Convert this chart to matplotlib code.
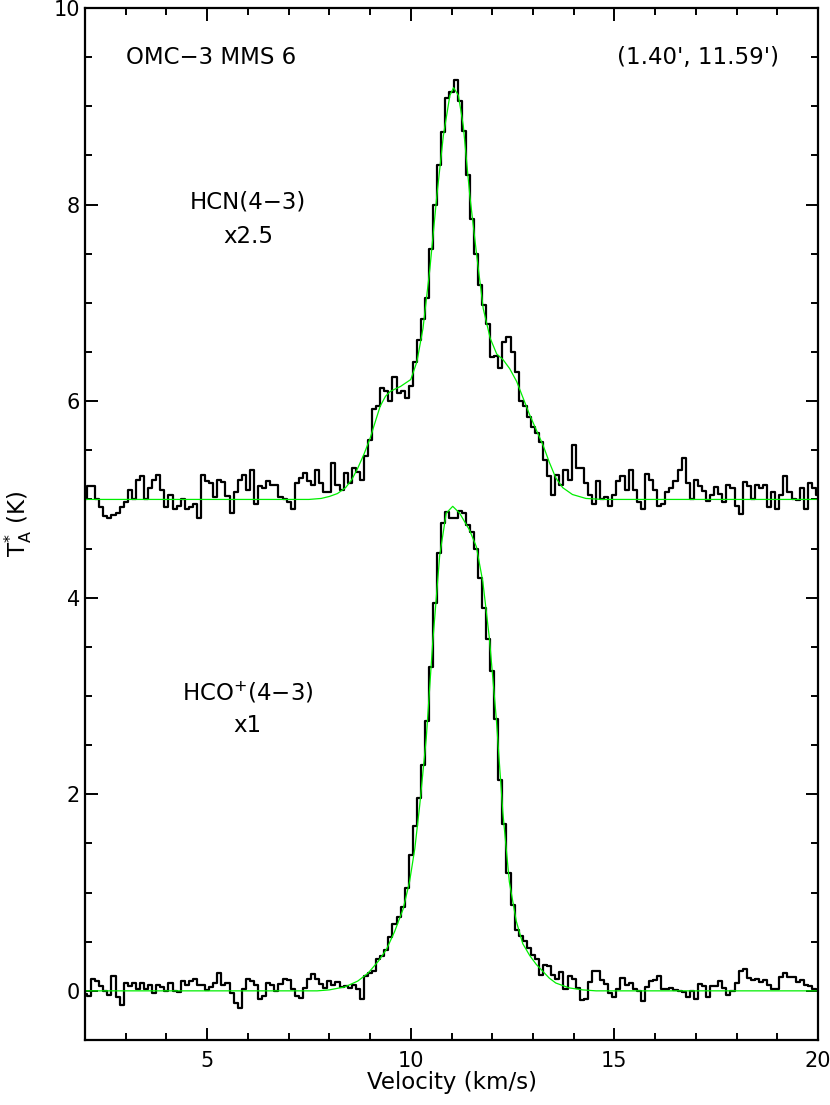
import numpy as np
import matplotlib
matplotlib.use("Agg")
import matplotlib.pyplot as plt
from matplotlib.ticker import MultipleLocator

plt.rcParams['font.family'] = ['DejaVu Sans']
plt.rcParams['mathtext.fontset'] = 'dejavusans'

# channel grid (km/s)
v_start, v_step = 2.0, 0.1

# HCN(4-3) x2.5, offset by +5 K (as plotted)
hcn = [5.0, 5.14, 5.14, 5.0, 4.92, 4.83, 4.81, 4.84, 4.86, 4.92,
       4.97, 5.1, 5.0, 5.2, 5.24, 5.0, 5.12, 5.2, 5.25, 5.1,
       4.92, 5.05, 4.9, 4.93, 5.0, 4.9, 4.92, 4.95, 4.81, 5.25,
       5.19, 5.17, 5.02, 5.2, 5.18, 5.03, 4.86, 5.08, 5.2, 5.25,
       5.1, 5.3, 4.95, 5.14, 5.12, 5.19, 5.15, 5.15, 5.02, 5.0,
       4.97, 4.9, 5.17, 5.22, 5.27, 5.19, 5.15, 5.3, 5.17, 5.08,
       5.08, 5.37, 5.15, 5.1, 5.27, 5.17, 5.32, 5.28, 5.2, 5.44,
       5.6, 5.92, 5.95, 6.13, 6.1, 6.0, 6.25, 6.08, 6.1, 6.03,
       6.15, 6.4, 6.62, 6.84, 7.05, 7.55, 8.0, 8.4, 8.74, 9.08,
       9.15, 9.27, 9.05, 8.75, 8.3, 7.85, 7.5, 7.18, 6.98, 6.78,
       6.45, 6.46, 6.34, 6.6, 6.65, 6.5, 6.3, 6.0, 5.95, 5.84,
       5.74, 5.68, 5.58, 5.4, 5.24, 5.05, 5.25, 5.15, 5.3, 5.2,
       5.55, 5.32, 5.32, 5.17, 5.05, 4.95, 5.19, 5.0, 5.02, 4.93,
       5.05, 5.19, 5.24, 5.1, 5.3, 5.1, 4.97, 4.9, 5.26, 5.2,
       5.1, 4.93, 4.95, 5.08, 5.12, 5.19, 5.3, 5.42, 5.17, 5.0,
       5.2, 5.14, 5.09, 4.98, 5.05, 5.13, 5.06, 4.97, 5.15, 5.12,
       4.93, 4.85, 5.18, 5.14, 5.0, 5.15, 5.12, 5.15, 4.92, 5.08,
       4.9, 5.05, 5.24, 5.08, 5.0, 4.99, 5.12, 4.9, 5.17, 5.12,
       5.05]

# HCO+(4-3) x1
hco = [-0.03, -0.05, 0.12, 0.1, 0.05, 0.0, -0.04, 0.15, -0.06, -0.14,
       0.08, 0.05, 0.08, 0.02, 0.08, 0.02, 0.06, -0.02, 0.06, 0.04,
       0.0, 0.08, 0.0, -0.01, 0.1, 0.06, 0.1, 0.12, 0.06, 0.06,
       0.01, 0.04, 0.08, 0.18, 0.06, 0.08, -0.02, -0.12, -0.17, 0.02,
       0.12, 0.1, 0.06, -0.08, -0.05, 0.08, 0.06, 0.0, 0.07, 0.12,
       0.11, 0.02, -0.05, -0.07, 0.03, 0.12, 0.17, 0.12, 0.07, 0.03,
       0.1, 0.06, 0.09, 0.04, 0.05, 0.03, 0.06, 0.02, -0.08, 0.15,
       0.18, 0.2, 0.32, 0.35, 0.42, 0.55, 0.68, 0.75, 0.85, 1.05,
       1.38, 1.68, 1.96, 2.3, 2.75, 3.3, 3.95, 4.45, 4.76, 4.87,
       4.81, 4.81, 4.88, 4.86, 4.74, 4.67, 4.5, 4.2, 3.9, 3.58,
       3.25, 2.77, 2.15, 1.7, 1.2, 0.87, 0.62, 0.56, 0.51, 0.44,
       0.36, 0.32, 0.16, 0.26, 0.25, 0.16, 0.12, 0.19, 0.02, 0.15,
       0.12, 0.03, -0.09, -0.08, 0.09, 0.2, 0.2, 0.11, 0.07, -0.02,
       -0.06, 0.02, 0.13, 0.06, 0.08, 0.02, 0.0, -0.1, 0.04, 0.1,
       0.11, 0.15, 0.02, 0.02, 0.03, 0.01, 0.0, -0.01, -0.06, 0.0,
       -0.08, 0.07, 0.05, -0.06, 0.05, 0.05, 0.1, 0.03, -0.04, 0.0,
       0.08, 0.2, 0.22, 0.13, 0.11, 0.12, 0.09, 0.11, 0.06, 0.02,
       0.02, 0.14, 0.18, 0.14, 0.14, 0.09, 0.11, 0.06, 0.05, 0.02,
       0.01]

# fitted profiles (green)
hcn_fit_v = [2.0, 7.5, 7.8, 8.0, 8.2, 8.4, 8.55, 8.7, 8.85, 9.0, 9.12, 9.25, 9.38, 9.5,
             9.75, 10.0, 10.15, 10.3, 10.47, 10.64, 10.8, 10.96, 11.05, 11.17,
             11.29, 11.45, 11.62, 11.78, 11.95, 12.11, 12.27, 12.43, 12.6,
             12.76, 12.92, 13.09, 13.25, 13.4, 13.56, 13.73, 13.97, 14.3, 14.7, 20.0]
hcn_fit_t = [5.0, 5.0, 5.01, 5.03, 5.06, 5.12, 5.2, 5.32, 5.46, 5.62, 5.78, 5.95, 6.05, 6.1,
             6.15, 6.22, 6.4, 6.74, 7.35, 8.09, 8.7, 9.11, 9.19, 9.11,
             8.8, 8.09, 7.48, 6.94, 6.64, 6.48, 6.42, 6.33, 6.2,
             6.03, 5.86, 5.7, 5.55, 5.38, 5.22, 5.12, 5.05, 5.01, 5.0, 5.0]

hco_fit_v = [2.0, 7.7, 8.0, 8.38, 8.7, 8.95, 9.2, 9.4, 9.6, 9.81, 9.97, 10.1, 10.22,
             10.38, 10.54, 10.71, 10.87, 11.03, 11.2, 11.44, 11.61, 11.77, 11.93,
             12.1, 12.26, 12.42, 12.59, 12.75, 12.92, 13.08, 13.24, 13.4, 13.56,
             13.89, 14.22, 14.55, 20.0]
hco_fit_t = [0.0, 0.0, 0.01, 0.04, 0.1, 0.18, 0.3, 0.42, 0.6, 0.83, 1.11, 1.45, 1.89,
             2.57, 3.55, 4.43, 4.86, 4.93, 4.86, 4.69, 4.52, 4.16, 3.59,
             2.77, 1.82, 1.11, 0.71, 0.48, 0.36, 0.27, 0.2, 0.13, 0.08,
             0.03, 0.01, 0.0, 0.0]

vel = v_start + v_step * np.arange(len(hcn))

fig = plt.figure(figsize=(8.30, 11.05), dpi=100)
ax = fig.add_axes([85/830, 65/1105, 733/830, 1032/1105])

ax.step(vel, hcn, where='mid', color='black', lw=1.6)
ax.step(vel, hco, where='mid', color='black', lw=1.6)
ax.plot(hcn_fit_v, hcn_fit_t, color='#00ee00', lw=0.9)
ax.plot(hco_fit_v, hco_fit_t, color='#00ee00', lw=0.9)

ax.set_xlim(2, 20)
ax.set_ylim(-0.5, 10)
ax.xaxis.set_major_locator(MultipleLocator(5))
ax.xaxis.set_minor_locator(MultipleLocator(1))
ax.yaxis.set_major_locator(MultipleLocator(2))
ax.yaxis.set_minor_locator(MultipleLocator(0.5))
ax.tick_params(which='both', direction='in', top=True, right=True, width=1.4,
               labelsize=15, colors='black')
ax.tick_params(which='major', length=9)
ax.tick_params(which='minor', length=5)
ax.tick_params(axis='x', which='major', pad=8)
for s in ax.spines.values():
    s.set_linewidth(1.6)

ax.set_xticks([5, 10, 15, 20])
ax.set_xticklabels(['5', '10', '15', '20'])

ax.set_xlabel('Velocity (km/s)', fontsize=16.5, labelpad=0)
ax.set_ylabel(r'T$_\mathregular{A}^\mathregular{*}$ (K)', fontsize=16.5, labelpad=14)

minus = '\u2212'
ax.text(3.0, 9.5, 'OMC' + minus + '3 MMS 6', fontsize=16.5, ha='left', va='center')
ax.text(19.05, 9.5, "(1.40', 11.59')", fontsize=16.5, ha='right', va='center')
ax.text(6.0, 8.03, 'HCN(4' + minus + '3)', fontsize=16.5, ha='center', va='center')
ax.text(6.0, 7.68, 'x2.5', fontsize=16.5, ha='center', va='center')
ax.text(6.0, 3.03, r'HCO$^\mathregular{+}$(4' + minus + '3)', fontsize=16.5, ha='center', va='center')
ax.text(6.0, 2.70, 'x1', fontsize=16.5, ha='center', va='center')

fig.savefig('out.png', dpi=100)
